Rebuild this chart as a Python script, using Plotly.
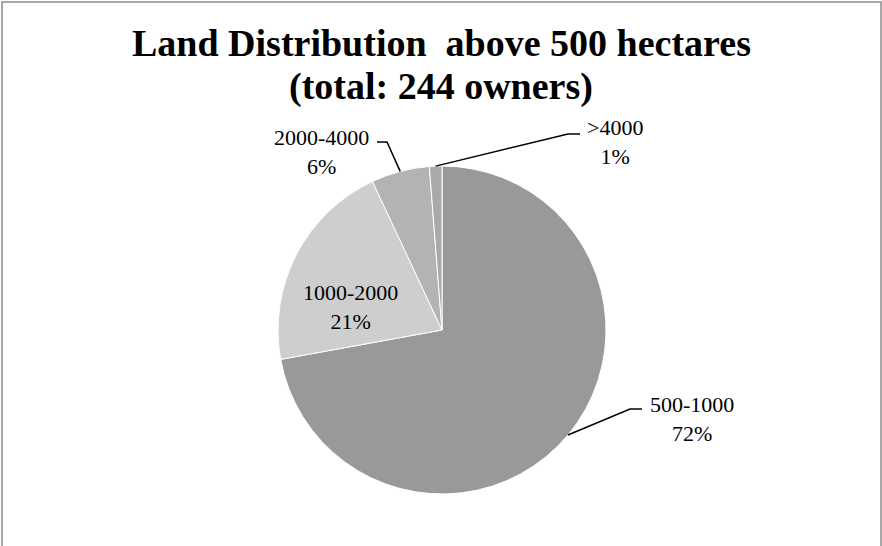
import math
import plotly.graph_objects as go

# ---- data ----
categories = ["500-1000", "1000-2000", "2000-4000", ">4000"]
owners = [176, 51, 14, 3]
title_line1 = "Land Distribution  above 500 hectares"
title_line2 = "(total: 244 owners)"

# ---- styles / layout ----
slice_colors = ["#999999", "#cecece", "#b3b3b3", "#a9a9a9"]
W, H = 882, 546
cx, cy, r = 442, 330, 164          # pie centre & radius in pixels
SERIF = "Liberation Serif, Times New Roman, serif"

# label block centres (px) and leader-line elbows (px) per category
label_xy = {"500-1000": (692, 419), "1000-2000": (350, 307),
            "2000-4000": (321, 152), ">4000": (615, 142)}
elbows = {"500-1000": [(630, 409), (642, 409)],
          "2000-4000": [(387, 142), (377, 142)],
          ">4000": [(568, 134), (580, 134)]}

def px(x, y):
    return x / W, 1 - y / H

total = sum(owners)
pcts = [round(v / total * 100) for v in owners]

fig = go.Figure(go.Pie(
    labels=categories, values=owners, sort=False, direction="clockwise",
    rotation=0, textinfo="none", hoverinfo="label+percent",
    marker=dict(colors=slice_colors, line=dict(color="white", width=1)),
    domain=dict(x=[(cx - r) / W, (cx + r) / W], y=[1 - (cy + r) / H, 1 - (cy - r) / H]),
    showlegend=False,
))

annotations = []
shapes = []
cum = 0
for cat, v, p in zip(categories, owners, pcts):
    mid = (cum + v / 2) / total * 2 * math.pi
    cum += v
    lx, ly = label_xy[cat]
    ax, ay = px(lx, ly)
    annotations.append(dict(x=ax, y=ay, xref="paper", yref="paper",
                            text=f"{cat}<br>{p}%", showarrow=False,
                            xanchor="center", yanchor="middle",
                            font=dict(family=SERIF, size=22, color="black")))
    if cat in elbows:
        sx, sy = cx + r * math.sin(mid), cy - r * math.cos(mid)
        pts = [(sx, sy)] + elbows[cat]
        path = "M " + " L ".join(f"{px(a, b)[0]:.5f},{px(a, b)[1]:.5f}" for a, b in pts)
        shapes.append(dict(type="path", path=path, xref="paper", yref="paper",
                           line=dict(color="black", width=1.5)))

for txt, yc in [(title_line1, 43.5), (title_line2, 86)]:
    annotations.append(dict(x=0.5, y=1 - yc / H, xref="paper", yref="paper",
                            text=f"<b>{txt}</b>", showarrow=False,
                            xanchor="center", yanchor="middle",
                            font=dict(family=SERIF, size=38, color="black")))

# outer frame
shapes.append(dict(type="path", xref="paper", yref="paper",
                   path=f"M {2/W:.5f},-0.05 L {2/W:.5f},{1-2/H:.5f} L {881/W:.5f},{1-2/H:.5f} L {881/W:.5f},-0.05",
                   line=dict(color="#8a8a8a", width=1.5)))

fig.update_layout(width=W, height=H, margin=dict(l=0, r=0, t=0, b=0),
                  paper_bgcolor="white", plot_bgcolor="white",
                  annotations=annotations, shapes=shapes)
fig.write_html("out.html", config={"displayModeBar": False},
               post_script="document.body.style.margin='0';document.body.style.overflow='hidden';")
